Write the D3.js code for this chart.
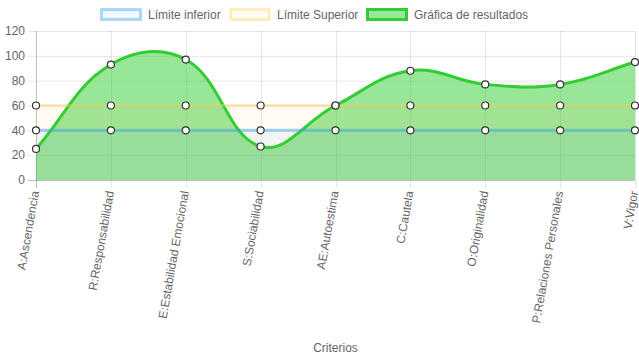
<!DOCTYPE html>
<html><head><meta charset="utf-8">
<script src="https://cdn.jsdelivr.net/npm/d3@7"></script>
<style>
html,body{margin:0;padding:0;background:#fff;}
svg{display:block;font-family:"Liberation Sans",Arial,Helvetica,sans-serif;}
</style></head>
<body><svg id="c" width="639" height="360"></svg>
<script>
const categories = ["A:Ascendencia","R:Responsabilidad","E:Estabilidad Emocional","S:Sociabilidad","AE:Autoestima","C:Cautela","O:Originalidad","P:Relaciones Personales","V:Vigor"];
const limiteInferior = [40,40,40,40,40,40,40,40,40];
const limiteSuperior = [60,60,60,60,60,60,60,60,60];
const resultados = [25,93,97,27,60,88,77,77,95];
const yTicks = [0,20,40,60,80,100,120];
const seriesNames = ["Límite inferior","Límite Superior","Gráfica de resultados"];
const xTitle = "Criterios";

const svg = d3.select("#c");
const area = {left:36, right:635, top:31, bottom:180};
const x = d3.scalePoint().domain(categories).range([area.left, area.right]);
const y = d3.scaleLinear().domain([0,120]).range([area.bottom, area.top]);

const series = [
  {name:seriesNames[0], data:limiteInferior, stroke:"rgba(54,162,235,0.45)", fill:"rgba(54,162,235,0.07)"},
  {name:seriesNames[1], data:limiteSuperior, stroke:"rgba(255,205,86,0.4)", fill:"rgba(255,205,86,0.08)"},
  {name:seriesNames[2], data:resultados, stroke:"rgb(50,205,50)", fill:"rgba(50,205,50,0.5)"}
];

// grid
const g = svg.append("g");
g.selectAll("line.hg").data(yTicks).join("line")
  .attr("x1", area.left-8).attr("x2", area.right)
  .attr("y1", d=>y(d)+0.5).attr("y2", d=>y(d)+0.5)
  .attr("stroke", d=> d===0 ? "rgba(0,0,0,0.25)" : "rgba(0,0,0,0.1)").attr("stroke-width",1);
g.selectAll("line.vg").data(categories).join("line")
  .attr("x1", d=>Math.round(x(d))+0.5).attr("x2", d=>Math.round(x(d))+0.5)
  .attr("y1", area.top).attr("y2", area.bottom+8)
  .attr("stroke", (d,i)=> i===0 ? "rgba(0,0,0,0.25)" : "rgba(0,0,0,0.1)").attr("stroke-width",1);

// y tick labels
g.selectAll("text.yt").data(yTicks).join("text")
  .attr("x", area.left-11).attr("y", d=>y(d)).attr("dy","0.35em")
  .attr("text-anchor","end").attr("font-size",12).attr("fill","#666").text(d=>d);

// x tick labels
g.selectAll("text.xt").data(categories).join("text")
  .attr("transform", d=>`translate(${x(d)-1},${area.bottom+11}) rotate(-80)`)
  .attr("dy","0.35em").attr("text-anchor","end").attr("font-size",12).attr("fill","#666").text(d=>d);

// axis title
svg.append("text").attr("x", (area.left+area.right)/2).attr("y", 352)
  .attr("text-anchor","middle").attr("font-size",12).attr("fill","#666").text(xTitle);

// spline like Chart.js (tension 0.4)
function controlPoints(data){
  const pts = data.map((v,i)=>({x:x(categories[i]), y:y(v)}));
  const t = 0.4;
  pts.forEach((cur,i)=>{
    const prev = pts[i-1]||cur, next = pts[i+1]||cur;
    const d01 = Math.hypot(cur.x-prev.x, cur.y-prev.y);
    const d12 = Math.hypot(next.x-cur.x, next.y-cur.y);
    let s01 = d01/(d01+d12), s12 = d12/(d01+d12);
    if(!isFinite(s01)) s01=0; if(!isFinite(s12)) s12=0;
    const fa=t*s01, fb=t*s12;
    const clampX=v=>Math.max(area.left,Math.min(area.right,v));
    const clampY=v=>Math.max(area.top,Math.min(area.bottom,v));
    cur.cp1={x:clampX(cur.x-fa*(next.x-prev.x)), y:clampY(cur.y-fa*(next.y-prev.y))};
    cur.cp2={x:clampX(cur.x+fb*(next.x-prev.x)), y:clampY(cur.y+fb*(next.y-prev.y))};
  });
  return pts;
}
function linePath(pts, p){
  p.moveTo(pts[0].x, pts[0].y);
  for(let i=1;i<pts.length;i++){
    p.bezierCurveTo(pts[i-1].cp2.x, pts[i-1].cp2.y, pts[i].cp1.x, pts[i].cp1.y, pts[i].x, pts[i].y);
  }
  return p;
}

const ptsAll = series.map(s=>controlPoints(s.data));
// fills, reverse order
for(let k=series.length-1;k>=0;k--){
  const pts = ptsAll[k];
  const p = linePath(pts, d3.path());
  p.lineTo(pts[pts.length-1].x, y(0));
  p.lineTo(pts[0].x, y(0));
  p.closePath();
  svg.append("path").attr("d", p.toString()).attr("fill", series[k].fill).attr("stroke","none");
}
// lines, reverse order
for(let k=series.length-1;k>=0;k--){
  svg.append("path").attr("d", linePath(ptsAll[k], d3.path()).toString())
    .attr("fill","none").attr("stroke", series[k].stroke).attr("stroke-width",3);
}
// points
for(let k=series.length-1;k>=0;k--){
  svg.append("g").selectAll("circle").data(series[k].data).join("circle")
    .attr("cx",(d,i)=>x(categories[i])).attr("cy",d=>y(d)).attr("r",3.5)
    .attr("fill","#fff").attr("stroke","#333").attr("stroke-width",1.2);
}

// legend
const legendItems = [
  {name:seriesNames[0], stroke:"rgba(54,162,235,0.4)", fill:"rgba(54,162,235,0.07)", x:100},
  {name:seriesNames[1], stroke:"rgba(255,205,86,0.35)", fill:"rgba(255,205,86,0.07)", x:229},
  {name:seriesNames[2], stroke:"rgb(50,205,50)", fill:"rgba(50,205,50,0.5)", x:366}
];
const lg = svg.append("g");
legendItems.forEach(it=>{
  lg.append("rect").attr("x",it.x+1.5).attr("y",9.5).attr("width",39).attr("height",10)
    .attr("fill",it.fill).attr("stroke",it.stroke).attr("stroke-width",3);
  lg.append("text").attr("x",it.x+48).attr("y",15).attr("dy","0.35em")
    .attr("font-size",12).attr("fill","#666").text(it.name);
});
</script></body></html>
